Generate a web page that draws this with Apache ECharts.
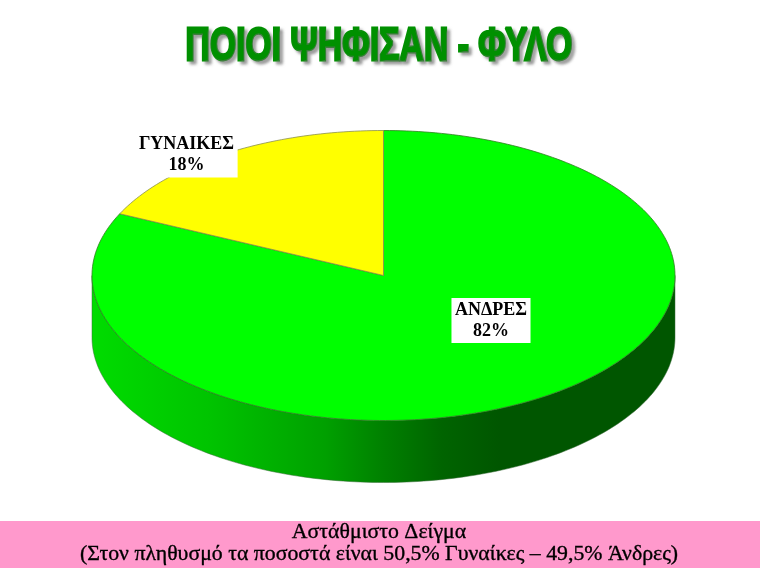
<!DOCTYPE html>
<html><head><meta charset="utf-8">
<style>html,body{margin:0;padding:0;background:#fff}#c{width:760px;height:568px}</style>
<script src="https://cdn.jsdelivr.net/npm/echarts@6/dist/echarts.min.js"></script>
</head><body><div id="c"></div>
<script>
const titleText = 'ΠΟΙΟΙ ΨΗΦΙΣΑΝ - ΦΥΛΟ';
const categories = ['ΑΝΔΡΕΣ', 'ΓΥΝΑΙΚΕΣ'];
const shares = [82, 18];
const colours = ['#00ff00', '#ffff00'];
const noteLines = ['Αστάθμιστο Δείγμα', '(Στον πληθυσμό τα ποσοστά είναι 50,5% Γυναίκες – 49,5% Άνδρες)'];

const cx = 383.5, cy = 275.5, rx = 291.5, ry = 145, depth = 62;
const labelPos = [[491, 320.5], [186.5, 155]];
const total = shares.reduce((a, b) => a + b, 0);
const pt = (t, dy) => [cx + rx * Math.sin(t), cy - ry * Math.cos(t) + (dy || 0)];

function arcPts(a, b, dy) {
  const n = Math.max(2, Math.ceil(Math.abs(b - a) / 0.02));
  const out = [];
  for (let i = 0; i <= n; i++) out.push(pt(a + (b - a) * i / n, dy));
  return out;
}
function toPath(pts) {
  return 'M' + pts.map(p => p[0].toFixed(2) + ' ' + p[1].toFixed(2)).join('L') + 'Z';
}
const sideGrad = {
  type: 'linear', x: 0, y: 0, x2: 1, y2: 0,
  colorStops: [
    { offset: 0, color: '#00dc00' }, { offset: 0.2, color: '#00c400' },
    { offset: 0.4, color: '#00a000' }, { offset: 0.5, color: '#008000' },
    { offset: 0.6, color: '#006400' }, { offset: 0.7, color: '#005600' },
    { offset: 1, color: '#005600' }
  ]
};
let acc = 0;
const rows = shares.map((v, i) => {
  const row = [acc, acc + v, v, i];
  acc += v;
  return row;
});

function renderItem(params, api) {
  const a = api.value(0) / total * 2 * Math.PI;
  const b = api.value(1) / total * 2 * Math.PI;
  const i = api.value(3);
  const children = [];
  const s = Math.max(a, Math.PI / 2), e = Math.min(b, Math.PI * 1.5);
  if (e > s) {
    const upper = arcPts(s, e, 0);
    const lower = arcPts(e, s, depth);
    children.push({
      type: 'path',
      shape: { pathData: toPath(upper.concat(lower)) },
      style: { fill: sideGrad, stroke: '#3a6a3a', lineWidth: 0.5 }
    });
  }
  children.push({
    type: 'path',
    shape: { pathData: toPath([[cx, cy]].concat(arcPts(a, b, 0))) },
    style: { fill: colours[i], stroke: i === 0 ? '#2f7f1f' : '#8a8f50', lineWidth: 0.8 }
  });
  children.push({
    type: 'text',
    z2: 10,
    style: {
      x: labelPos[i][0], y: labelPos[i][1],
      text: categories[i] + '\n' + api.value(2) + '%',
      align: 'center', verticalAlign: 'middle',
      font: 'bold 18px "Liberation Serif"', lineHeight: 21,
      fill: '#000', backgroundColor: '#fff', padding: [1.5, 3.5, 1.5, 3.5]
    }
  });
  return { type: 'group', children };
}

const chart = echarts.init(document.getElementById('c'), null, { renderer: 'canvas' });
chart.setOption({
  animation: false,
  backgroundColor: '#fff',
  graphic: [
    { type: 'text', x: 379, y: 47, scaleX: 0.675, scaleY: 0.94, z: 3,
      style: {
        text: titleText, x: 0, y: 0, align: 'center', verticalAlign: 'middle',
        font: 'bold 50px "Liberation Sans"', fill: '#009000',
        stroke: '#009000', lineWidth: 3,
        textShadowColor: 'rgba(110,110,110,0.6)', textShadowBlur: 3, textShadowOffsetX: 3, textShadowOffsetY: 3
      } },
    { type: 'rect', x: 0, y: 521, shape: { x: 0, y: 0, width: 760, height: 47 }, style: { fill: '#ff99cc' }, z: 1 },
    { type: 'text', x: 379, y: 543, z: 2,
      style: { text: noteLines.join('\n'), x: 0, y: 0, font: '21.8px "Liberation Serif"', lineHeight: 22,
        align: 'center', verticalAlign: 'middle', fill: '#000', stroke: '#000', lineWidth: 0.35 } }
  ],
  series: [{ type: 'custom', coordinateSystem: 'none', data: rows, renderItem, silent: true,
    encode: { value: [2] } }]
});
</script></body></html>
